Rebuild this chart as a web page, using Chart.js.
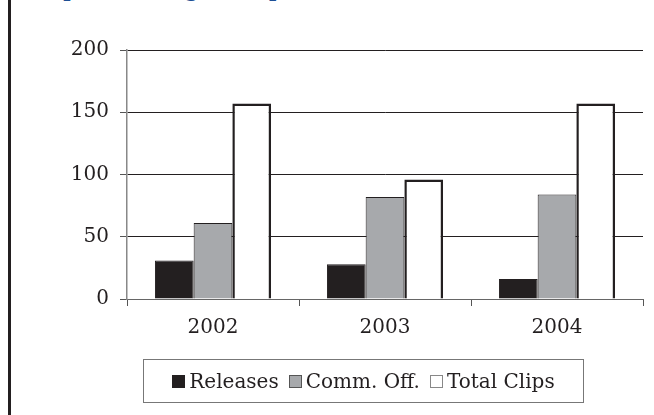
<!DOCTYPE html>
<html>
<head>
<meta charset="utf-8">
<script src="https://cdn.jsdelivr.net/npm/chart.js@4"></script>
<style>
  body { margin: 0; background: #fff; }
  #wrap { position: relative; width: 654px; height: 415px; overflow: hidden; }
  #frame-line { position: absolute; left: 8px; top: 0; width: 3px; height: 415px; background: #231f20; }
  #title { position: absolute; left: 22px; top: -20px; font: bold 20px "DejaVu Serif", serif; line-height: 20px; color: #1d4f94; white-space: nowrap; }
  #chart { position: absolute; left: 0; top: 0; }
  #legend { position: absolute; left: 143px; top: 359px; width: 439px; height: 42px; border: 1px solid #777;
            display: flex; align-items: center; justify-content: center; font: 20px "DejaVu Serif", serif; color: #231f20; }
  .item { display: flex; align-items: center; margin: 0 5px; }
  .sw { width: 13px; height: 13px; margin-right: 4px; box-sizing: border-box; }
</style>
</head>
<body>
<div id="wrap">
  <div id="frame-line"></div>
  <div id="title">Output Coverage Comparison of Press Releases</div>
  <canvas id="chart" width="654" height="415"></canvas>
  <div id="legend"></div>
</div>
<script>
// --- DATA ---
const years = ['2002', '2003', '2004'];
const releases = [31, 28, 16];
const commOff = [61, 82, 84];
const totalClips = [157, 96, 157];
const yTicks = [0, 50, 100, 150, 200];

const seriesNames = ['Releases', 'Comm. Off.', 'Total Clips'];
const fills = ['#231f20', '#a7a9ac', '#ffffff'];
const edges = ['#231f20', '#231f20', '#231f20'];
const swatchEdges = ['#231f20', '#555', '#888'];

const fontCfg = { family: '"DejaVu Serif", serif', size: 20 };

const ctx = document.getElementById('chart').getContext('2d');
new Chart(ctx, {
    type: 'bar',
    data: {
        labels: years,
        datasets: [releases, commOff, totalClips].map((d, i) => ({
            label: seriesNames[i],
            data: d,
            backgroundColor: fills[i],
            borderColor: edges[i],
            borderWidth: i === 2 ? 2.5 : 1,
            categoryPercentage: 0.675,
            barPercentage: 1
        }))
    },
    options: {
        responsive: false,
        animation: false,
        layout: { padding: { top: 50, right: 11, left: 0, bottom: 0 } },
        plugins: { legend: { display: false }, tooltip: { enabled: false } },
        scales: {
            x: {
                afterFit: s => { s.height = 116; },
                grid: { offset: true, drawOnChartArea: false, drawTicks: true, tickLength: 7, color: '#555', lineWidth: 1 },
                border: { color: '#666', width: 1 },
                ticks: { color: '#231f20', font: fontCfg, padding: 10 }
            },
            y: {
                min: 0, max: 200,
                afterFit: s => { s.width = 127; },
                afterBuildTicks: s => { s.ticks = yTicks.map(v => ({ value: v })); },
                grid: { color: '#231f20', lineWidth: 1, tickLength: 7, tickColor: '#555' },
                border: { color: '#888', width: 1.5 },
                ticks: { color: '#231f20', font: fontCfg, padding: 11 }
            }
        }
    }
});

// --- LEGEND (boxed, as in the reference) ---
const legendEl = document.getElementById('legend');
seriesNames.forEach((name, i) => {
    legendEl.innerHTML += `<div class="item"><div class="sw" style="background:${fills[i]};border:1px solid ${swatchEdges[i]}"></div>${name}</div>`;
});
</script>
</body>
</html>
